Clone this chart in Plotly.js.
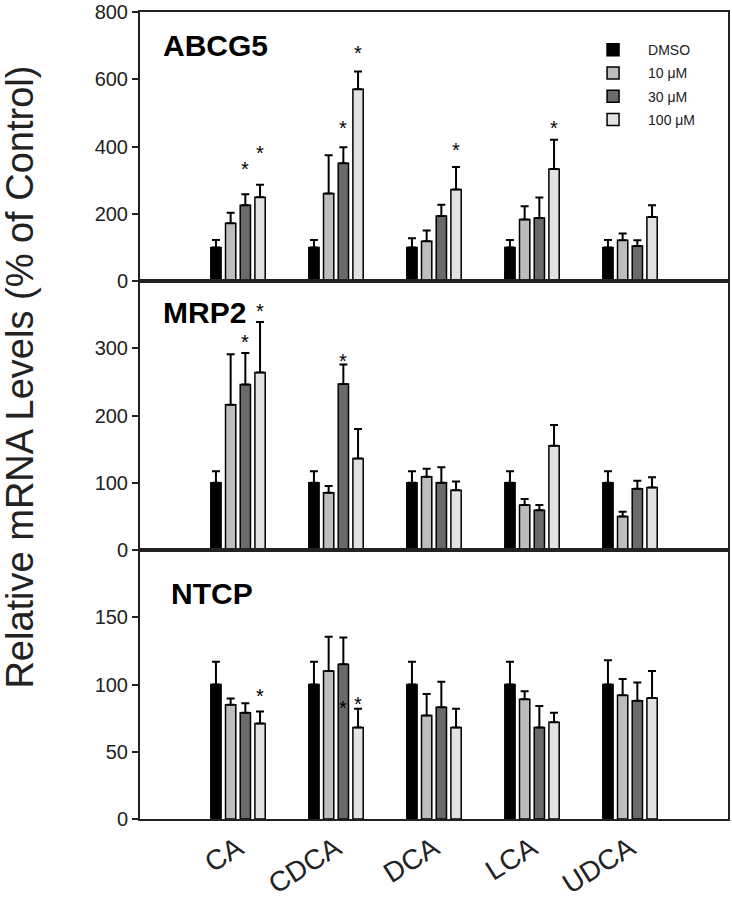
<!DOCTYPE html>
<html><head><meta charset="utf-8">
<script src="https://cdn.plot.ly/plotly-3.0.1.min.js"></script>
<style>html,body{margin:0;padding:0;background:#fff}#chart{width:732px;height:899px}</style>
</head><body><div id="chart"></div>
<script>
const categories = ['CA','CDCA','DCA','LCA','UDCA'];
const doses = ['DMSO','10 \u03bcM','30 \u03bcM','100 \u03bcM'];
const genes = ['ABCG5','MRP2','NTCP'];

// ABCG5
const abcg5_DMSO = [100,100,100,100,100];
const abcg5_10   = [172,260,118,183,121];
const abcg5_30   = [225,350,193,187,104];
const abcg5_100  = [249,570,272,333,190];
const abcg5_err_DMSO = [22,22,27,22,22];
const abcg5_err_10   = [31,114,32,39,20];
const abcg5_err_30   = [33,48,34,61,17];
const abcg5_err_100  = [37,53,67,87,35];
const abcg5_star_30  = [348,470,null,null,null];
const abcg5_star_100 = [395,692,405,470,null];

// MRP2
const mrp2_DMSO = [100,100,100,100,100];
const mrp2_10   = [216,85,109,67,50];
const mrp2_30   = [246,247,100,59,91];
const mrp2_100  = [264,136,89,155,93];
const mrp2_err_DMSO = [17,17,17,17,17];
const mrp2_err_10   = [75,10,12,9,7];
const mrp2_err_30   = [47,29,23,8,12];
const mrp2_err_100  = [75,44,13,31,15];
const mrp2_star_30  = [316,289,null,null,null];
const mrp2_star_100 = [363,null,null,null,null];

// NTCP
const ntcp_DMSO = [100,100,100,100,100];
const ntcp_10   = [85,110,77,89,92];
const ntcp_30   = [79,115,83,68,88];
const ntcp_100  = [71,68,68,72,90];
const ntcp_err_DMSO = [17,17,17,17,18];
const ntcp_err_10   = [4.5,25.5,16,6,12];
const ntcp_err_30   = [7,20,19,16,13.5];
const ntcp_err_100  = [9,14,14,7,20];
const ntcp_star_30  = [null,86,null,null,null];
const ntcp_star_100 = [95,89,null,null,null];

const yTicks = [[0,200,400,600,800],[0,100,200,300],[0,50,100,150]];
const yRanges = [[0,800],[0,400],[0,200]];

const panels = [
  {means:[abcg5_DMSO,abcg5_10,abcg5_30,abcg5_100], errs:[abcg5_err_DMSO,abcg5_err_10,abcg5_err_30,abcg5_err_100], stars:[null,null,abcg5_star_30,abcg5_star_100]},
  {means:[mrp2_DMSO,mrp2_10,mrp2_30,mrp2_100], errs:[mrp2_err_DMSO,mrp2_err_10,mrp2_err_30,mrp2_err_100], stars:[null,null,mrp2_star_30,mrp2_star_100]},
  {means:[ntcp_DMSO,ntcp_10,ntcp_30,ntcp_100], errs:[ntcp_err_DMSO,ntcp_err_10,ntcp_err_30,ntcp_err_100], stars:[null,null,ntcp_star_30,ntcp_star_100]}
];

const colors = ['#000000','#bdbdbd','#6a6a6a','#e2e2e2'];
const FONT = 'Liberation Sans, Arial, sans-serif';
const BARGAP = 0.4, GROUPGAP = 0.3;
const slot = (1 - BARGAP) / doses.length;
const xs = categories.map((c,i)=>i);

const traces = [];
const annotations = [];
panels.forEach((p, pi) => {
  const ax = pi === 0 ? '' : String(pi+1);
  p.means.forEach((m, si) => {
    traces.push({
      type:'bar', x: xs, y: m, name: doses[si],
      xaxis:'x'+ax, yaxis:'y'+ax,
      marker:{color:colors[si], line:{color:'#000', width:1.5}},
      error_y:{type:'data', symmetric:false, array:p.errs[si], arrayminus:m.map(()=>0), color:'#000', thickness:2, width:4},
      showlegend: pi === 0, legendgroup:'g'+si, hoverinfo:'skip'
    });
    const st = p.stars[si];
    if (st) st.forEach((v, ci) => {
      if (v == null) return;
      annotations.push({xref:'x'+ax, yref:'y'+ax, x: ci + (si - (doses.length-1)/2)*slot, y: v,
        text:'*', showarrow:false, font:{family:FONT, size:20, color:'#000'}, yshift:-5});
    });
  });
});

const labelPos = [[0.035,0.877],[0.035,0.882],[0.05,0.84]];
genes.forEach((g, gi) => {
  const ax = gi === 0 ? '' : String(gi+1);
  annotations.push({xref:'x'+ax+' domain', yref:'y'+ax+' domain', x:labelPos[gi][0], y:labelPos[gi][1],
    xanchor:'left', yanchor:'middle', text:'<b>'+g+'</b>', showarrow:false,
    font:{family:FONT, size:30, color:'#000'}});
});

annotations.push({xref:'paper', yref:'paper', x:-0.204, y:0.547, xanchor:'center', yanchor:'middle',
  textangle:-90, text:'Relative mRNA Levels (% of Control)', showarrow:false,
  font:{family:FONT, size:38, color:'#222'}});

const doms = [[2/3,1],[1/3,2/3],[0,1/3]];
const layout = {
  width:732, height:899,
  margin:{l:140, r:4, t:12, b:80},
  paper_bgcolor:'#fff', plot_bgcolor:'#fff',
  font:{family:FONT, color:'#222'},
  barmode:'group', bargap:BARGAP, bargroupgap:GROUPGAP,
  showlegend:true,
  legend:{x:0.745, y:0.9725, xanchor:'left', yanchor:'top', font:{family:FONT, size:14, color:'#222'},
    bgcolor:'rgba(0,0,0,0)', itemwidth:60, tracegroupgap:2, traceorder:'grouped'},
  annotations: annotations
};
for (let i=0;i<3;i++){
  const ax = i === 0 ? '' : String(i+1);
  layout['xaxis'+ax] = {
    domain:[0,1], range:[-1,5], anchor:'y'+ax, showline:true, mirror:true, linewidth:2, linecolor:'#222',
    showgrid:false, zeroline:false, ticks:'', tickvals:xs, ticktext:categories,
    showticklabels: i === 2, tickangle:-32, tickfont:{family:FONT, size:28, color:'#222'}
  };
  if (i>0) layout['xaxis'+ax].matches = 'x';
  layout['yaxis'+ax] = {
    domain:doms[i], range:yRanges[i], anchor:'x'+ax, showline:true, mirror:true, linewidth:2, linecolor:'#222',
    showgrid:false, zeroline:false, ticks:'outside', ticklen:6, tickwidth:2, tickcolor:'#222',
    tickvals:yTicks[i], tickfont:{family:FONT, size:20, color:'#222'}
  };
}
Plotly.newPlot('chart', traces, layout, {displayModeBar:false, staticPlot:true});
</script></body></html>
